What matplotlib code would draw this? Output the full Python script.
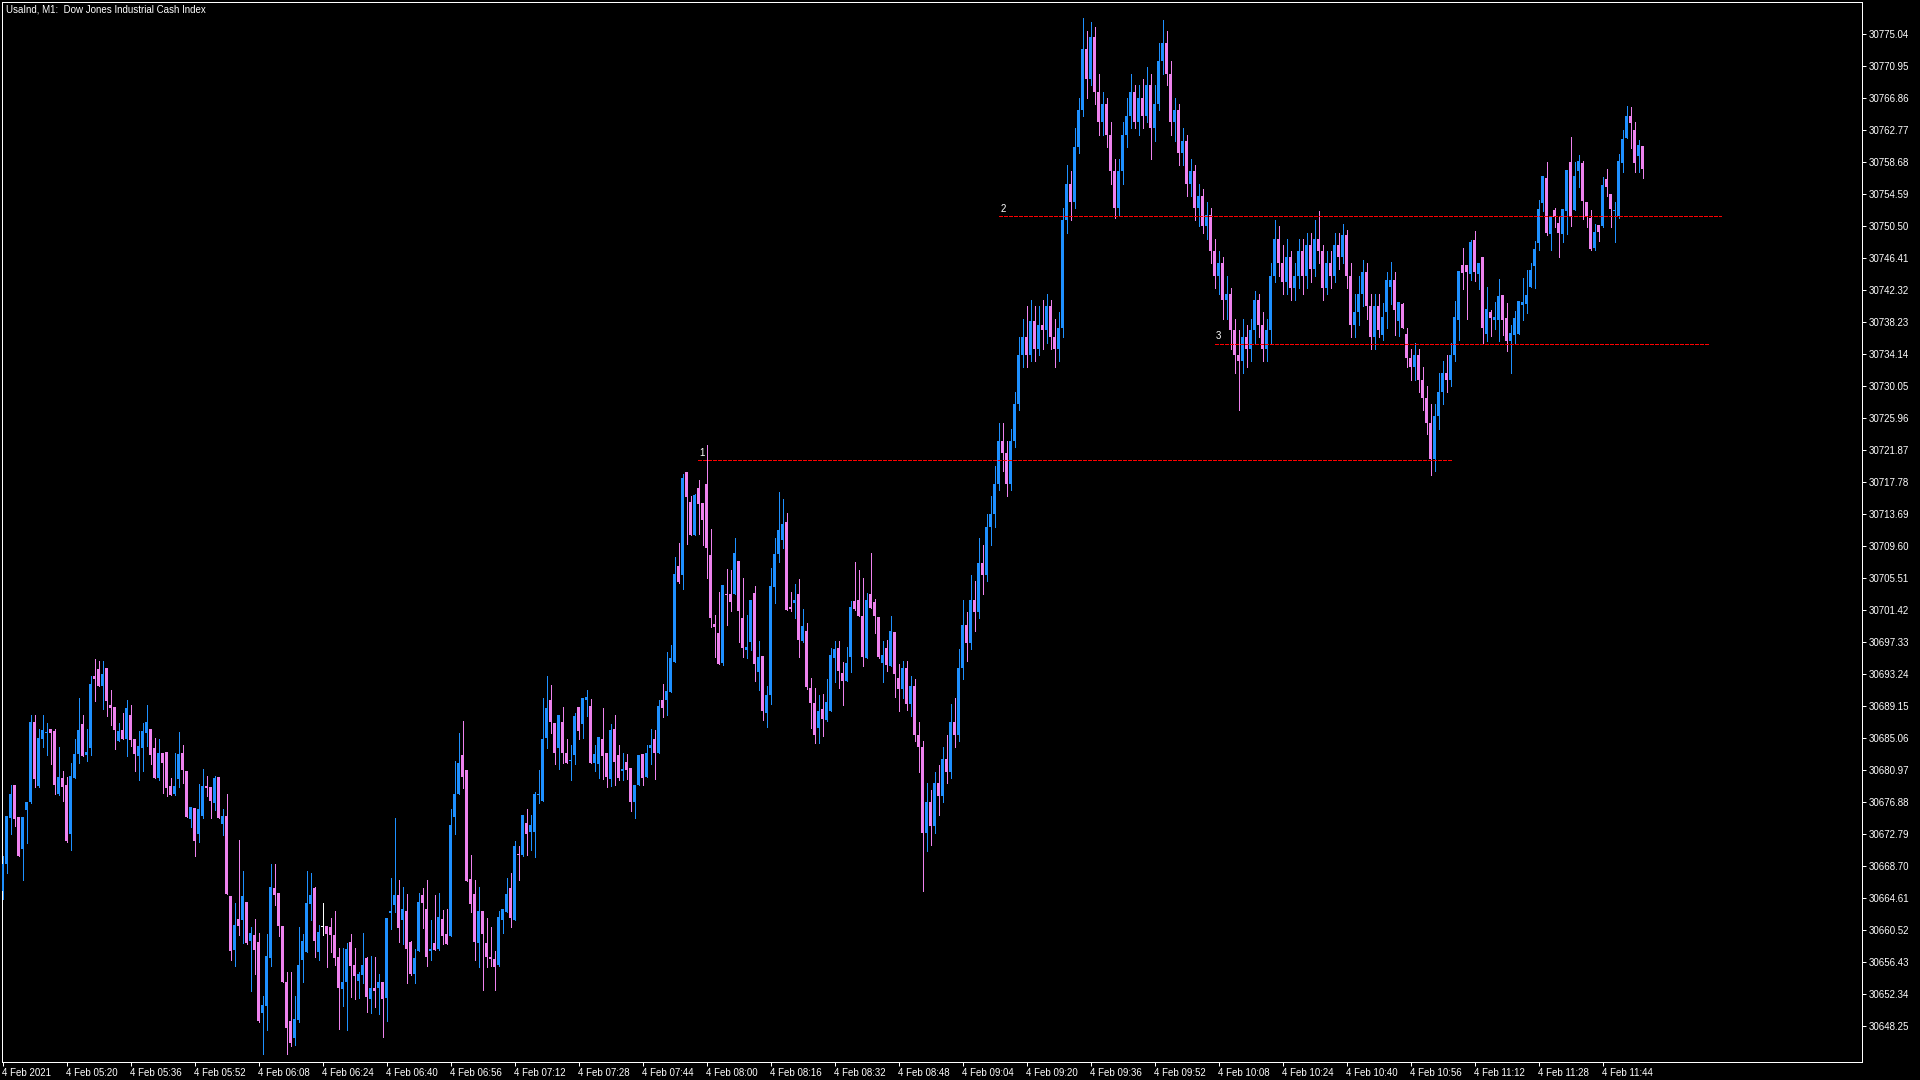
import numpy as np
import matplotlib
matplotlib.use("Agg")
import matplotlib.pyplot as plt

# M1 bars (bar index 0 = 4 Feb 05:04)
opens = [
    30665.5, 30669.0, 30674.9, 30679.1, 30675.0, 30670.9, 30675.9, 30676.9, 30687.2, 30678.9,
    30685.0, 30685.7, 30686.2, 30686.0, 30677.9, 30680.0, 30679.1, 30672.8, 30680.0, 30683.0,
    30686.9, 30682.9, 30683.8, 30693.0, 30693.9, 30691.8, 30694.0, 30689.3, 30689.0, 30684.7,
    30686.1, 30685.0, 30688.1, 30685.0, 30682.8, 30683.8, 30685.8, 30686.2, 30683.8, 30680.0,
    30683.2, 30683.3, 30679.0, 30677.9, 30679.8, 30683.2, 30680.9, 30674.7, 30676.1, 30672.8,
    30675.1, 30679.0, 30678.8, 30676.8, 30680.1, 30674.1, 30675.1, 30664.9, 30658.0, 30662.0,
    30661.8, 30664.1, 30659.1, 30659.9, 30659.0, 30649.9, 30650.8, 30657.0, 30665.9, 30665.3,
    30661.1, 30653.9, 30648.9, 30646.7, 30649.0, 30656.7, 30657.7, 30663.9, 30665.9, 30657.7,
    30660.9, 30661.1, 30660.9, 30659.9, 30657.1, 30653.0, 30653.9, 30659.0, 30656.1, 30654.0,
    30654.8, 30657.0, 30651.7, 30653.1, 30653.1, 30653.9, 30651.9, 30662.7, 30663.7, 30665.0,
    30661.8, 30663.0, 30659.0, 30654.9, 30657.9, 30665.0, 30663.2, 30657.9, 30658.9, 30658.1,
    30662.0, 30660.0, 30659.8, 30675.0, 30678.0, 30682.9, 30681.0, 30667.1, 30665.1, 30658.9,
    30663.0, 30658.9, 30657.1, 30656.8, 30656.1, 30661.8, 30662.8, 30665.9, 30661.8, 30670.3,
    30670.1, 30674.2, 30673.1, 30673.1, 30677.8, 30677.0, 30685.1, 30690.0, 30687.0, 30683.8,
    30687.1, 30683.2, 30682.1, 30682.9, 30689.0, 30686.9, 30689.9, 30689.2, 30681.9, 30681.8,
    30685.0, 30683.2, 30679.8, 30686.2, 30682.9, 30680.9, 30682.0, 30681.3, 30676.9, 30679.1,
    30683.0, 30680.1, 30683.8, 30685.0, 30683.2, 30689.9, 30689.9, 30691.0, 30694.8, 30707.1,
    30705.9, 30719.1, 30715.2, 30711.0, 30717.0, 30715.1, 30717.6, 30708.5, 30699.7, 30698.5,
    30694.7, 30703.5, 30703.5, 30703.5, 30707.7, 30700.4, 30696.3, 30697.4, 30703.6, 30693.5,
    30695.6, 30688.3, 30690.6, 30704.4, 30708.6, 30710.4, 30712.7, 30701.8, 30702.3, 30703.5,
    30697.5, 30698.8, 30691.5, 30689.6, 30686.4, 30688.8, 30687.4, 30688.5, 30695.3, 30696.6,
    30693.4, 30692.4, 30695.4, 30702.6, 30702.7, 30700.7, 30695.3, 30703.5, 30702.5, 30700.6,
    30694.7, 30696.6, 30694.3, 30698.6, 30692.8, 30691.4, 30694.1, 30689.4, 30691.8, 30685.5,
    30683.9, 30673.0, 30676.9, 30673.8, 30679.3, 30677.7, 30682.4, 30680.8, 30687.1, 30685.5,
    30694.1, 30699.6, 30697.3, 30702.7, 30701.2, 30707.4, 30705.9, 30712.1, 30713.7, 30717.6,
    30723.1, 30721.5, 30717.6, 30723.1, 30727.8, 30734.0, 30736.4, 30734.0, 30738.4, 30734.8,
    30737.9, 30737.2, 30740.3, 30736.4, 30734.8, 30737.5, 30751.3, 30755.9, 30753.6, 30760.6,
    30765.3, 30773.2, 30769.3, 30774.7, 30767.7, 30763.8, 30766.1, 30762.2, 30757.5, 30752.8,
    30757.5, 30762.2, 30764.6, 30767.7, 30763.8, 30766.9, 30764.6, 30768.5, 30763.0, 30766.1,
    30771.6, 30773.9, 30770.0, 30763.8, 30765.3, 30759.9, 30761.4, 30755.9, 30757.5, 30752.8,
    30754.4, 30750.5, 30752.0, 30747.3, 30744.2, 30745.8, 30741.1, 30741.9, 30737.2, 30734.0,
    30733.3, 30736.4, 30734.8, 30737.2, 30741.1, 30737.9, 30734.8, 30737.2, 30744.2, 30748.9,
    30745.8, 30743.4, 30746.6, 30742.6, 30744.2, 30747.3, 30744.2, 30748.1, 30745.0, 30748.9,
    30747.3, 30742.6, 30745.8, 30744.2, 30748.1, 30746.6, 30749.4, 30744.2, 30737.9, 30739.5,
    30741.9, 30744.7, 30740.3, 30736.4, 30740.3, 30736.6, 30739.5, 30742.7, 30743.6, 30738.4,
    30740.6, 30736.7, 30733.7, 30732.5, 30734.0, 30730.9, 30728.5, 30725.4, 30720.7, 30726.2,
    30729.3, 30731.7, 30730.9, 30734.0, 30738.5, 30745.5, 30745.5, 30744.4, 30748.7, 30744.4,
    30746.6, 30736.7, 30739.5, 30738.5, 30738.5, 30741.7, 30738.8, 30735.8, 30736.6, 30736.7,
    30740.4, 30740.6, 30742.7, 30745.4, 30748.4, 30753.5, 30756.7, 30749.5, 30752.6, 30750.9,
    30749.5, 30752.5, 30758.7, 30752.6, 30757.6, 30758.6, 30753.6, 30751.6, 30747.7, 30750.7,
    30750.5, 30756.5, 30754.6, 30752.5, 30751.8, 30758.6, 30761.8, 30764.6, 30762.8, 30759.5,
    30760.8,
]
highs = [
    30670.0, 30675.1, 30679.1, 30679.1, 30675.0, 30675.0, 30676.9, 30688.0, 30688.1, 30686.2,
    30688.0, 30687.0, 30686.2, 30686.2, 30683.9, 30680.9, 30680.1, 30681.9, 30685.0, 30690.2,
    30688.1, 30686.2, 30693.0, 30695.2, 30695.0, 30694.9, 30694.0, 30691.2, 30689.0, 30687.0,
    30688.3, 30689.9, 30689.3, 30685.0, 30686.0, 30687.0, 30689.3, 30686.2, 30685.1, 30685.0,
    30683.2, 30683.3, 30680.0, 30683.2, 30685.9, 30684.2, 30680.9, 30676.3, 30676.1, 30679.2,
    30681.1, 30680.2, 30678.8, 30680.2, 30680.1, 30676.0, 30677.9, 30664.9, 30664.0, 30672.1,
    30668.1, 30664.2, 30660.9, 30662.0, 30660.2, 30652.1, 30660.0, 30669.0, 30669.0, 30665.3,
    30661.1, 30655.2, 30655.2, 30652.1, 30660.9, 30660.0, 30668.1, 30667.8, 30666.0, 30661.2,
    30664.0, 30661.1, 30662.1, 30663.0, 30658.3, 30658.3, 30658.9, 30660.0, 30658.3, 30655.2,
    30660.2, 30657.1, 30657.2, 30657.1, 30654.9, 30653.9, 30662.1, 30667.2, 30674.9, 30666.9,
    30666.0, 30665.1, 30659.1, 30658.1, 30665.3, 30665.9, 30666.9, 30661.8, 30665.0, 30665.3,
    30663.1, 30663.2, 30676.0, 30682.1, 30685.8, 30687.3, 30681.0, 30670.1, 30666.9, 30666.0,
    30663.0, 30662.1, 30661.0, 30657.9, 30663.0, 30663.2, 30667.2, 30667.9, 30671.9, 30671.3,
    30675.2, 30676.0, 30675.2, 30678.2, 30681.0, 30690.2, 30693.0, 30691.9, 30687.0, 30688.0,
    30689.0, 30685.0, 30684.2, 30688.3, 30689.0, 30690.2, 30691.2, 30690.1, 30684.2, 30685.2,
    30688.9, 30683.2, 30686.9, 30688.0, 30684.2, 30683.2, 30683.0, 30681.3, 30679.1, 30682.9,
    30683.0, 30684.2, 30686.2, 30686.1, 30689.9, 30692.0, 30696.1, 30697.0, 30708.2, 30710.0,
    30718.9, 30719.1, 30716.0, 30716.3, 30718.1, 30715.1, 30722.5, 30711.8, 30700.8, 30703.7,
    30704.6, 30706.7, 30706.6, 30710.6, 30707.7, 30705.5, 30700.8, 30702.7, 30704.5, 30697.5,
    30695.6, 30691.7, 30706.8, 30710.6, 30716.5, 30715.6, 30713.8, 30703.7, 30704.8, 30705.4,
    30701.6, 30699.8, 30692.8, 30691.5, 30690.6, 30690.7, 30692.6, 30696.6, 30697.5, 30697.5,
    30694.8, 30696.7, 30702.6, 30707.6, 30706.6, 30705.5, 30703.6, 30708.7, 30702.9, 30700.6,
    30697.5, 30697.6, 30700.7, 30698.6, 30694.5, 30694.9, 30694.9, 30693.0, 30692.6, 30687.1,
    30684.7, 30679.3, 30678.5, 30680.8, 30681.6, 30683.9, 30685.5, 30689.4, 30690.2, 30696.5,
    30702.7, 30701.2, 30705.9, 30705.1, 30710.6, 30709.8, 30713.7, 30716.0, 30719.9, 30725.4,
    30725.4, 30723.1, 30724.6, 30729.3, 30736.4, 30738.7, 30740.3, 30741.1, 30740.3, 30740.3,
    30741.1, 30741.9, 30741.1, 30738.7, 30739.5, 30752.8, 30758.3, 30757.5, 30763.0, 30766.9,
    30777.1, 30775.5, 30776.6, 30776.0, 30770.0, 30767.7, 30766.9, 30763.8, 30759.1, 30759.1,
    30763.8, 30766.9, 30770.0, 30768.5, 30768.5, 30769.3, 30770.8, 30770.0, 30768.5, 30773.9,
    30776.8, 30775.5, 30771.6, 30766.9, 30766.1, 30763.0, 30762.2, 30759.1, 30758.3, 30755.9,
    30755.2, 30753.6, 30752.8, 30748.9, 30747.3, 30746.6, 30744.2, 30742.6, 30738.7, 30737.2,
    30738.7, 30737.9, 30738.7, 30742.2, 30741.9, 30739.5, 30738.7, 30745.8, 30751.3, 30750.5,
    30748.1, 30748.9, 30747.3, 30745.8, 30748.9, 30748.9, 30749.7, 30749.7, 30751.3, 30752.5,
    30748.1, 30747.3, 30747.3, 30749.7, 30749.7, 30750.8, 30750.0, 30745.8, 30741.9, 30744.2,
    30746.2, 30745.8, 30741.9, 30741.9, 30741.9, 30740.7, 30744.6, 30745.9, 30744.6, 30740.8,
    30740.7, 30737.5, 30734.8, 30735.6, 30734.8, 30732.5, 30730.1, 30727.8, 30727.8, 30731.7,
    30733.3, 30734.0, 30735.6, 30740.9, 30744.8, 30747.7, 30745.5, 30748.7, 30749.9, 30745.8,
    30746.6, 30742.7, 30739.8, 30740.8, 30743.8, 30741.7, 30740.7, 30737.9, 30739.7, 30740.9,
    30743.9, 30744.9, 30745.8, 30748.6, 30753.9, 30756.9, 30758.7, 30751.8, 30752.8, 30751.8,
    30752.7, 30757.7, 30761.9, 30758.7, 30759.6, 30758.8, 30753.6, 30752.6, 30750.8, 30750.7,
    30756.8, 30757.8, 30754.6, 30753.6, 30759.7, 30762.8, 30765.9, 30765.7, 30763.8, 30761.5,
    30760.8,
]
lows = [
    30664.5, 30667.8, 30672.8, 30673.9, 30670.0, 30666.9, 30671.7, 30676.8, 30678.8, 30678.8,
    30683.9, 30682.9, 30681.8, 30678.0, 30677.8, 30677.0, 30671.8, 30670.8, 30680.0, 30681.9,
    30682.8, 30682.1, 30682.9, 30689.8, 30691.8, 30688.8, 30687.9, 30686.7, 30683.7, 30684.7,
    30685.0, 30682.8, 30684.1, 30680.9, 30679.7, 30680.9, 30684.1, 30681.8, 30680.0, 30679.7,
    30678.1, 30677.7, 30677.8, 30677.8, 30678.8, 30679.3, 30675.0, 30673.7, 30670.0, 30671.8,
    30674.9, 30677.7, 30674.9, 30675.9, 30674.9, 30672.7, 30665.2, 30656.7, 30656.0, 30659.9,
    30658.9, 30658.8, 30652.8, 30654.9, 30648.8, 30644.7, 30647.8, 30656.0, 30663.7, 30659.8,
    30653.9, 30644.7, 30645.7, 30645.9, 30648.8, 30653.9, 30657.7, 30661.8, 30657.1, 30656.7,
    30659.9, 30655.8, 30657.7, 30656.1, 30647.9, 30650.8, 30647.8, 30652.0, 30651.7, 30651.9,
    30653.8, 30650.1, 30650.0, 30650.7, 30649.8, 30646.9, 30648.9, 30660.7, 30662.8, 30659.0,
    30658.8, 30653.8, 30654.8, 30653.8, 30657.9, 30660.8, 30655.9, 30656.7, 30658.0, 30658.0,
    30658.8, 30658.8, 30659.8, 30672.8, 30678.0, 30678.7, 30666.8, 30662.8, 30656.7, 30655.8,
    30652.9, 30655.8, 30656.0, 30652.9, 30656.0, 30660.2, 30662.8, 30660.9, 30661.8, 30666.9,
    30670.0, 30670.1, 30670.8, 30669.9, 30676.8, 30677.0, 30683.8, 30685.8, 30681.8, 30681.1,
    30681.9, 30681.9, 30679.7, 30681.8, 30685.0, 30685.1, 30687.9, 30681.9, 30680.9, 30680.0,
    30679.8, 30678.8, 30678.9, 30679.1, 30679.7, 30679.7, 30679.8, 30675.8, 30674.9, 30679.1,
    30679.1, 30680.1, 30681.8, 30679.8, 30683.2, 30687.8, 30688.0, 30691.0, 30694.8, 30704.9,
    30704.1, 30709.9, 30711.0, 30711.0, 30711.2, 30709.8, 30705.5, 30699.3, 30695.4, 30694.5,
    30694.4, 30699.5, 30701.3, 30703.5, 30697.4, 30695.4, 30695.3, 30696.4, 30692.4, 30691.2,
    30687.4, 30686.5, 30689.4, 30702.3, 30707.6, 30709.4, 30701.4, 30701.3, 30700.4, 30695.4,
    30697.4, 30691.4, 30686.4, 30684.4, 30684.4, 30685.3, 30687.3, 30688.5, 30692.2, 30691.5,
    30689.3, 30692.4, 30693.5, 30701.5, 30700.7, 30694.3, 30695.3, 30701.7, 30698.5, 30695.3,
    30692.2, 30693.6, 30694.3, 30690.3, 30688.5, 30690.2, 30688.7, 30687.9, 30684.7, 30680.8,
    30665.5, 30670.6, 30671.4, 30673.0, 30675.3, 30676.9, 30679.3, 30680.0, 30683.9, 30684.7,
    30692.6, 30694.9, 30696.5, 30698.8, 30700.4, 30703.5, 30705.1, 30709.8, 30712.1, 30716.8,
    30719.2, 30716.0, 30716.8, 30722.3, 30727.0, 30732.5, 30732.5, 30733.3, 30733.3, 30734.0,
    30734.8, 30735.6, 30734.8, 30732.5, 30733.3, 30736.4, 30749.7, 30751.3, 30752.8, 30759.9,
    30764.6, 30766.9, 30768.5, 30766.1, 30762.2, 30762.2, 30760.6, 30755.9, 30751.6, 30752.0,
    30755.9, 30760.6, 30763.0, 30763.0, 30762.2, 30763.0, 30763.8, 30759.1, 30761.4, 30765.3,
    30770.0, 30768.5, 30762.2, 30761.4, 30758.3, 30758.3, 30754.4, 30754.4, 30751.3, 30750.5,
    30749.7, 30748.9, 30745.8, 30742.6, 30741.9, 30738.7, 30738.7, 30734.8, 30731.7, 30727.0,
    30731.7, 30732.5, 30733.3, 30735.6, 30736.4, 30733.3, 30733.3, 30735.6, 30743.4, 30744.2,
    30741.9, 30741.9, 30741.1, 30741.1, 30742.6, 30741.9, 30742.6, 30743.4, 30744.2, 30745.8,
    30741.1, 30741.9, 30742.6, 30743.4, 30745.0, 30745.8, 30742.6, 30736.4, 30736.4, 30737.9,
    30740.3, 30738.7, 30734.8, 30734.8, 30736.4, 30736.0, 30737.5, 30740.6, 30736.6, 30736.5,
    30737.5, 30732.5, 30730.9, 30730.9, 30729.3, 30727.0, 30723.9, 30718.7, 30719.2, 30724.6,
    30727.8, 30729.3, 30730.1, 30733.3, 30736.0, 30742.5, 30738.6, 30743.6, 30743.5, 30742.5,
    30735.6, 30735.8, 30736.5, 30737.4, 30735.8, 30736.6, 30734.5, 30731.7, 30735.5, 30736.7,
    30738.5, 30739.4, 30742.7, 30742.6, 30747.5, 30752.5, 30749.4, 30747.5, 30750.4, 30746.6,
    30748.5, 30749.5, 30750.5, 30752.6, 30755.5, 30751.4, 30750.4, 30747.5, 30747.5, 30748.6,
    30750.4, 30754.4, 30750.4, 30748.5, 30751.6, 30757.4, 30761.8, 30760.5, 30757.4, 30757.4,
    30756.7,
]
closes = [
    30669.0, 30675.1, 30677.9, 30674.7, 30670.0, 30675.0, 30676.9, 30687.1, 30679.8, 30685.1,
    30686.1, 30685.9, 30685.7, 30679.1, 30680.1, 30678.8, 30671.9, 30680.2, 30683.0, 30686.1,
    30682.8, 30683.3, 30692.0, 30692.7, 30691.8, 30693.3, 30689.8, 30688.9, 30686.1, 30686.0,
    30685.0, 30688.9, 30684.8, 30683.0, 30684.1, 30686.0, 30687.2, 30682.9, 30680.0, 30683.2,
    30681.9, 30678.7, 30677.8, 30679.0, 30683.0, 30681.0, 30675.0, 30676.3, 30671.9, 30676.0,
    30679.0, 30678.7, 30677.0, 30680.0, 30674.9, 30675.1, 30665.2, 30657.9, 30661.2, 30661.1,
    30664.9, 30658.9, 30660.2, 30658.0, 30648.9, 30651.0, 30657.2, 30666.0, 30665.0, 30661.1,
    30653.9, 30648.0, 30646.1, 30649.2, 30656.1, 30659.1, 30664.0, 30665.0, 30659.2, 30660.3,
    30660.9, 30660.0, 30659.9, 30657.0, 30653.1, 30653.9, 30658.1, 30656.0, 30654.7, 30654.9,
    30656.1, 30652.0, 30653.1, 30652.8, 30653.9, 30651.7, 30662.1, 30663.0, 30665.0, 30660.8,
    30663.2, 30658.1, 30654.9, 30657.0, 30664.1, 30664.0, 30657.1, 30658.1, 30658.0, 30662.2,
    30659.8, 30658.8, 30674.0, 30677.9, 30681.9, 30680.1, 30666.8, 30663.9, 30659.0, 30663.0,
    30660.1, 30657.1, 30656.8, 30655.8, 30662.2, 30663.2, 30665.1, 30662.1, 30671.3, 30670.1,
    30675.2, 30672.8, 30674.0, 30677.9, 30677.9, 30685.0, 30688.9, 30687.1, 30683.2, 30688.0,
    30683.2, 30681.9, 30682.3, 30687.9, 30686.0, 30690.2, 30690.3, 30681.9, 30683.0, 30685.2,
    30682.8, 30680.1, 30686.1, 30682.0, 30680.0, 30681.1, 30681.0, 30676.9, 30679.1, 30682.9,
    30680.0, 30683.2, 30684.2, 30683.2, 30689.2, 30688.9, 30691.1, 30695.3, 30706.0, 30705.0,
    30718.3, 30715.9, 30711.0, 30716.1, 30715.0, 30712.9, 30709.4, 30700.4, 30699.3, 30694.5,
    30704.6, 30703.4, 30702.5, 30708.7, 30701.3, 30696.6, 30696.7, 30702.7, 30694.5, 30695.4,
    30688.5, 30690.6, 30704.5, 30708.6, 30711.7, 30712.4, 30701.4, 30701.6, 30702.7, 30697.6,
    30699.4, 30691.6, 30689.6, 30685.5, 30688.5, 30687.5, 30689.7, 30695.7, 30696.5, 30693.7,
    30692.4, 30694.7, 30701.8, 30701.6, 30700.7, 30695.4, 30702.7, 30701.7, 30700.7, 30695.4,
    30695.7, 30694.4, 30698.8, 30693.3, 30691.4, 30694.1, 30689.4, 30691.8, 30685.5, 30683.9,
    30673.0, 30676.9, 30673.8, 30679.3, 30677.7, 30682.4, 30680.8, 30687.1, 30685.5, 30694.1,
    30699.6, 30697.3, 30702.7, 30701.2, 30707.4, 30705.9, 30712.1, 30713.7, 30717.6, 30723.1,
    30721.5, 30717.6, 30723.1, 30727.8, 30734.0, 30736.4, 30734.0, 30738.4, 30734.8, 30737.9,
    30737.2, 30740.3, 30736.4, 30734.8, 30737.5, 30751.3, 30755.9, 30753.6, 30760.6, 30765.3,
    30773.2, 30769.3, 30774.7, 30767.7, 30763.8, 30766.1, 30762.2, 30757.5, 30752.8, 30757.5,
    30762.2, 30764.6, 30767.7, 30763.8, 30766.9, 30764.6, 30768.5, 30763.0, 30766.1, 30771.6,
    30773.9, 30770.0, 30763.8, 30765.3, 30759.9, 30761.4, 30755.9, 30757.5, 30752.8, 30754.4,
    30750.5, 30752.0, 30747.3, 30744.2, 30745.8, 30741.1, 30741.9, 30737.2, 30734.0, 30733.3,
    30736.4, 30734.8, 30737.2, 30741.1, 30737.9, 30734.8, 30737.2, 30744.2, 30748.9, 30745.8,
    30743.4, 30746.6, 30742.6, 30744.2, 30747.3, 30744.2, 30748.1, 30745.0, 30748.9, 30747.3,
    30742.6, 30745.8, 30744.2, 30748.1, 30746.6, 30749.4, 30744.2, 30737.9, 30739.5, 30741.9,
    30744.7, 30740.3, 30736.4, 30740.3, 30737.2, 30738.9, 30743.6, 30743.6, 30739.8, 30740.8,
    30737.5, 30733.7, 30732.5, 30734.0, 30730.9, 30728.5, 30725.4, 30720.7, 30726.2, 30729.3,
    30731.7, 30730.9, 30734.0, 30738.9, 30744.8, 30744.5, 30744.6, 30748.5, 30744.6, 30745.8,
    30737.5, 30739.9, 30738.8, 30738.9, 30741.6, 30738.5, 30735.8, 30736.9, 30738.8, 30740.9,
    30740.8, 30741.7, 30744.9, 30747.6, 30752.7, 30756.9, 30749.6, 30751.8, 30751.7, 30749.6,
    30752.7, 30757.7, 30751.8, 30756.9, 30758.8, 30753.7, 30751.7, 30747.6, 30749.8, 30749.8,
    30755.8, 30755.5, 30752.7, 30752.6, 30758.9, 30761.7, 30764.6, 30763.7, 30758.6, 30760.9,
    30757.8,
]

time_labels = [
    "4 Feb 2021", "4 Feb 05:20", "4 Feb 05:36", "4 Feb 05:52", "4 Feb 06:08", "4 Feb 06:24",
    "4 Feb 06:40", "4 Feb 06:56", "4 Feb 07:12", "4 Feb 07:28", "4 Feb 07:44", "4 Feb 08:00",
    "4 Feb 08:16", "4 Feb 08:32", "4 Feb 08:48", "4 Feb 09:04", "4 Feb 09:20", "4 Feb 09:36",
    "4 Feb 09:52", "4 Feb 10:08", "4 Feb 10:24", "4 Feb 10:40", "4 Feb 10:56", "4 Feb 11:12",
    "4 Feb 11:28", "4 Feb 11:44",
]
price_labels = [
    "30775.04", "30770.95", "30766.86", "30762.77", "30758.68", "30754.59", "30750.50",
    "30746.41", "30742.32", "30738.23", "30734.14", "30730.05", "30725.96", "30721.87",
    "30717.78", "30713.69", "30709.60", "30705.51", "30701.42", "30697.33", "30693.24",
    "30689.15", "30685.06", "30680.97", "30676.88", "30672.79", "30668.70", "30664.61",
    "30660.52", "30656.43", "30652.34", "30648.25",
]

# horizontal levels drawn on the chart: price, first bar, last bar
level_names = ["1", "2", "3"]
level_prices = [30720.59, 30751.77, 30735.44]
level_from = [173.8, 249.1, 303.0]
level_to = [362.1, 429.6, 426.4]

BULL = "#1E90FF"
BEAR = "#EE82EE"
PX = 0.72  # one pixel in points at dpi 100

plt.rcParams['font.family'] = ['Liberation Sans', 'DejaVu Sans']

o = np.array(opens)
h = np.array(highs)
l = np.array(lows)
c = np.array(closes)
x = np.arange(len(c))
colors = np.where(c > o, BULL, np.where(c < o, BEAR, "white"))

fig = plt.figure(figsize=(19.2, 10.8), dpi=100, facecolor="black")
ax = fig.add_axes([2 / 1920, 18 / 1080, 1860 / 1920, 1060 / 1080])
ax.set_facecolor("black")

ax.vlines(x, np.minimum(l, np.minimum(o, c)), np.maximum(h, np.maximum(o, c)),
          colors=colors, linewidth=PX, antialiased=False, zorder=2)
body = np.maximum(np.abs(c - o), 0.13)
ax.bar(x, body, bottom=np.minimum(o, c), width=0.75, color=colors,
       linewidth=0, antialiased=False, zorder=3)

for name, p, x0, x1 in zip(level_names, level_prices, level_from, level_to):
    ax.plot([x0, x1], [p, p], color="#FF0000", linewidth=PX, dashes=(3, 2),
            antialiased=False, zorder=4)
    ax.annotate(name, (x0, p), xytext=(1, 2), textcoords="offset points",
                color="white", fontsize=7, va="bottom", ha="left")

ax.set_xlim(-0.125, 464.875)
ax.set_ylim(30643.69, 30779.16)

ax.yaxis.tick_right()
ax.set_yticks([float(v) for v in price_labels])
ax.set_yticklabels(price_labels)
ax.set_xticks(np.arange(len(time_labels)) * 16)
ax.set_xticklabels(time_labels, ha="left")
ax.tick_params(colors="white", labelcolor="white", labelsize=7, length=3, width=PX,
               direction="out", pad=1.5)
for s in ax.spines.values():
    s.set_color("white")
    s.set_linewidth(PX)

fig.text(6 / 1920, 1 - 9.5 / 1080, "UsaInd, M1:  Dow Jones Industrial Cash Index",
         color="white", fontsize=7, va="center", ha="left")

fig.savefig("out.png", dpi=100, facecolor="black")
